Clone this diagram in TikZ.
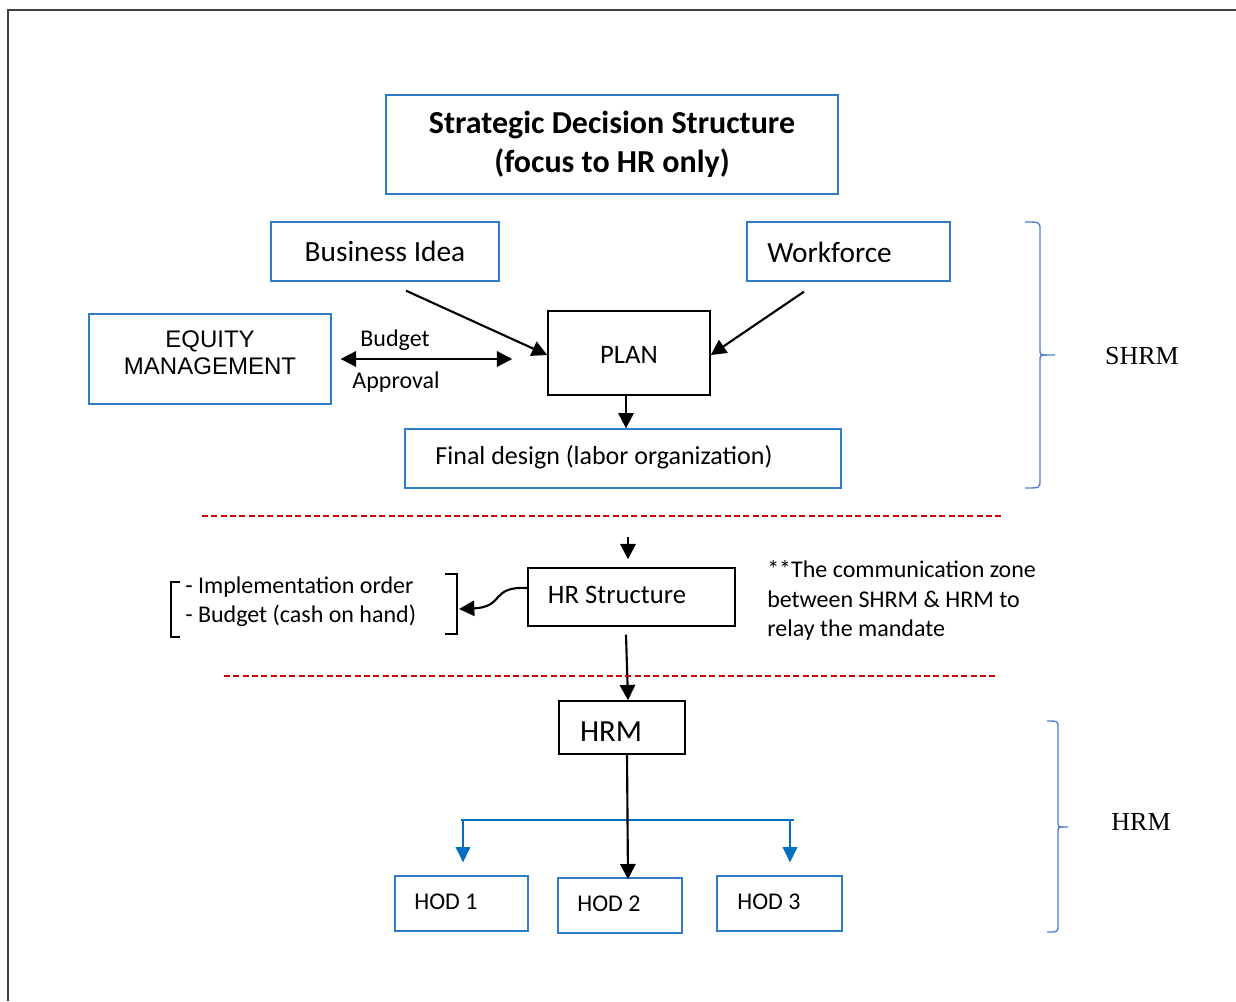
\documentclass[tikz,border=0pt]{standalone}
\usepackage{fontspec}
\setmainfont{Carlito}
\newfontfamily\arialf{Liberation Sans}
\newfontfamily\timesf{Liberation Serif}
\usetikzlibrary{arrows.meta,calc}
\definecolor{boxblue}{RGB}{46,125,200}
\definecolor{arrblue}{RGB}{0,112,192}
\definecolor{braceblue}{RGB}{80,125,210}
\definecolor{dashred}{RGB}{204,0,0}
\definecolor{framegray}{RGB}{64,64,64}
\begin{document}
\begin{tikzpicture}[x=0.75pt,y=-0.75pt,
  bluebox/.style={draw=boxblue,line width=1pt,inner sep=0pt},
  blackbox/.style={draw=black,line width=1.1pt,inner sep=0pt},
  txt/.style={inner sep=0pt,font=\fontsize{18}{22}\selectfont},
  arr/.style={line width=1.6pt,-{Triangle[length=11.5pt,width=11.5pt]}},
  dblarr/.style={line width=1.6pt,{Triangle[length=11.5pt,width=11.5pt]}-{Triangle[length=11.5pt,width=11.5pt]}},
  barr/.style={draw=arrblue,line width=1.4pt,-{Triangle[length=11.5pt,width=11pt]}},
  reddash/.style={draw=dashred,line width=1.1pt,dash pattern=on 4.5pt off 2.5pt},
  bracestyle/.style={draw=braceblue,line width=1pt},
  brackstyle/.style={draw=black,line width=0.9pt}
]
\useasboundingbox (0,0) rectangle (1236,1001);
% frame
\draw[framegray,line width=1.5pt] (8,1001) -- (8,10) -- (1236,10);

% title
\node[bluebox,minimum width=339pt,minimum height=74.25pt,align=center,
  font=\bfseries\fontsize{24}{29}\selectfont] (title) at (612,144.5)
  {Strategic Decision Structure\\(focus to HR only)};

% top boxes
\node[bluebox,minimum width=171pt,minimum height=44.25pt,
  font=\fontsize{22}{26}\selectfont] (biz) at (385,251.5) {Business Idea};
\node[bluebox,minimum width=152.25pt,minimum height=44.25pt] (work) at (848.5,251.5) {};
\node[txt,font=\fontsize{22}{26}\selectfont,anchor=west] (worktxt) at (767,252) {Workforce};

\node[blackbox,minimum width=121.5pt,minimum height=63pt] (plan) at (629,353) {};
\node[txt,font=\fontsize{20}{24}\selectfont] (plantxt) at (629,355) {PLAN};

\node[bluebox,minimum width=181.5pt,minimum height=67.5pt] (equity) at (210,359) {};
\node[txt,font=\arialf\fontsize{18}{20}\selectfont,align=center] (equitytxt) at (210,353) {EQUITY\\MANAGEMENT};

\node[txt] (budget) at (395,340) {Budget};
\node[txt] (approval) at (396,382) {Approval};

\node[bluebox,minimum width=327pt,minimum height=44.25pt] (final) at (623,458.5) {};
\node[txt,font=\fontsize{19.5}{24}\selectfont] (finaltxt) at (604,457) {Final design (labor organization)};

% middle zone
\node[blackbox,minimum width=155.25pt,minimum height=43.5pt] (hrs) at (631.5,597) {};
\node[txt,font=\fontsize{20}{24}\selectfont] (hrstxt) at (617,595) {HR Structure};

\node[txt,font=\fontsize{18}{21.75}\selectfont,align=left,anchor=west] (list) at (185,601.5)
  {- Implementation order\\- Budget (cash on hand)};
\node[txt,font=\fontsize{18}{22}\selectfont,align=left,anchor=west] (note) at (767,600.5)
  {**The communication zone\\between SHRM \& HRM to\\relay the mandate};

% HRM zone
\node[blackbox,minimum width=94.5pt,minimum height=39.75pt] (hrm) at (622,727.5) {};
\node[txt,font=\fontsize{23}{27}\selectfont] (hrmtxt) at (611,732) {HRM};

\node[bluebox,minimum width=99.75pt,minimum height=41.25pt] (hod1) at (461.5,903.5) {};
\node[txt] (hod1txt) at (446,902) {HOD 1};
\node[bluebox,minimum width=93pt,minimum height=41.25pt] (hod2) at (620,905.5) {};
\node[txt] (hod2txt) at (609,904) {HOD 2};
\node[bluebox,minimum width=93.75pt,minimum height=41.25pt] (hod3) at (779.5,903.5) {};
\node[txt] (hod3txt) at (769,902) {HOD 3};

% side labels
\node[txt,font=\timesf\fontsize{19.5}{22}\selectfont] (shrmlbl) at (1142,356) {SHRM};
\node[txt,font=\timesf\fontsize{19.5}{22}\selectfont] (hrmlbl) at (1141,822) {HRM};

% connectors
\draw[arr] ($(biz.south)+(21,9)$) -- ($(plan.west)+(0,2)$);
\draw[arr] ($(work.south)+(-44.5,10)$) -- ($(plan.east)+(0,2)$);
\draw[dblarr] ($(equity.east)+(9,0)$) -- ($(plan.west)+(-35,6)$);
\draw[arr] ($(plan.south)+(-3,0)$) -- ($(final.north)+(3,0)$);
\coordinate (hrsin) at (628,537);
\draw[arr] (hrsin) -- ($(hrs.north)+(-3.5,-8)$);
\draw[arr] ($(hrs.south)+(-5.5,8)$) -- ($(hrm.north)+(6,0)$);
\coordinate (listend) at (459,609);
\draw[arr] ($(hrs.west)+(0,-9)$) .. controls (490,586) and (505,607) .. (listend);

% brackets
\draw[brackstyle] (180,582) -- (171,582) -- (171,637) -- (180,637);
\draw[brackstyle] (445,574) -- (457,574) -- (457,634) -- (445,634);

% dashed separators
\coordinate (d1a) at (202,516); \coordinate (d1b) at (1003,516);
\coordinate (d2a) at (224,676); \coordinate (d2b) at (995,676);
\draw[reddash] (d1a) -- (d1b);
\draw[reddash] (d2a) -- (d2b);

% HRM to HODs
\coordinate (busL) at (461,820); \coordinate (busR) at (794,820);
\draw[arrblue,line width=1.2pt] (busL) -- (busR);
\coordinate (b1) at (463,820); \coordinate (b3) at (790,820);
\draw[barr] (b1) -- ($(hod1.north)+(1.5,-13)$);
\draw[barr] (b3) -- ($(hod3.north)+(10.5,-13)$);
\draw[arr] ($(hrm.south)+(5,0)$) -- ($(hod2.north)+(8,2)$);

% braces
\draw[bracestyle] (1025,222) .. controls (1040,222) .. (1040,230) -- (1040,349)
  .. controls (1040,355) .. (1047,355) -- (1055,355);
\draw[bracestyle] (1047,355) .. controls (1040,355) .. (1040,361) -- (1040,480)
  .. controls (1040,488) .. (1025,488);
\draw[bracestyle] (1047,721) .. controls (1058,721) .. (1058,728) -- (1058,821)
  .. controls (1058,827) .. (1063,827) -- (1068,827);
\draw[bracestyle] (1063,827) .. controls (1058,827) .. (1058,833) -- (1058,925)
  .. controls (1058,932) .. (1047,932);
\end{tikzpicture}
\end{document}
